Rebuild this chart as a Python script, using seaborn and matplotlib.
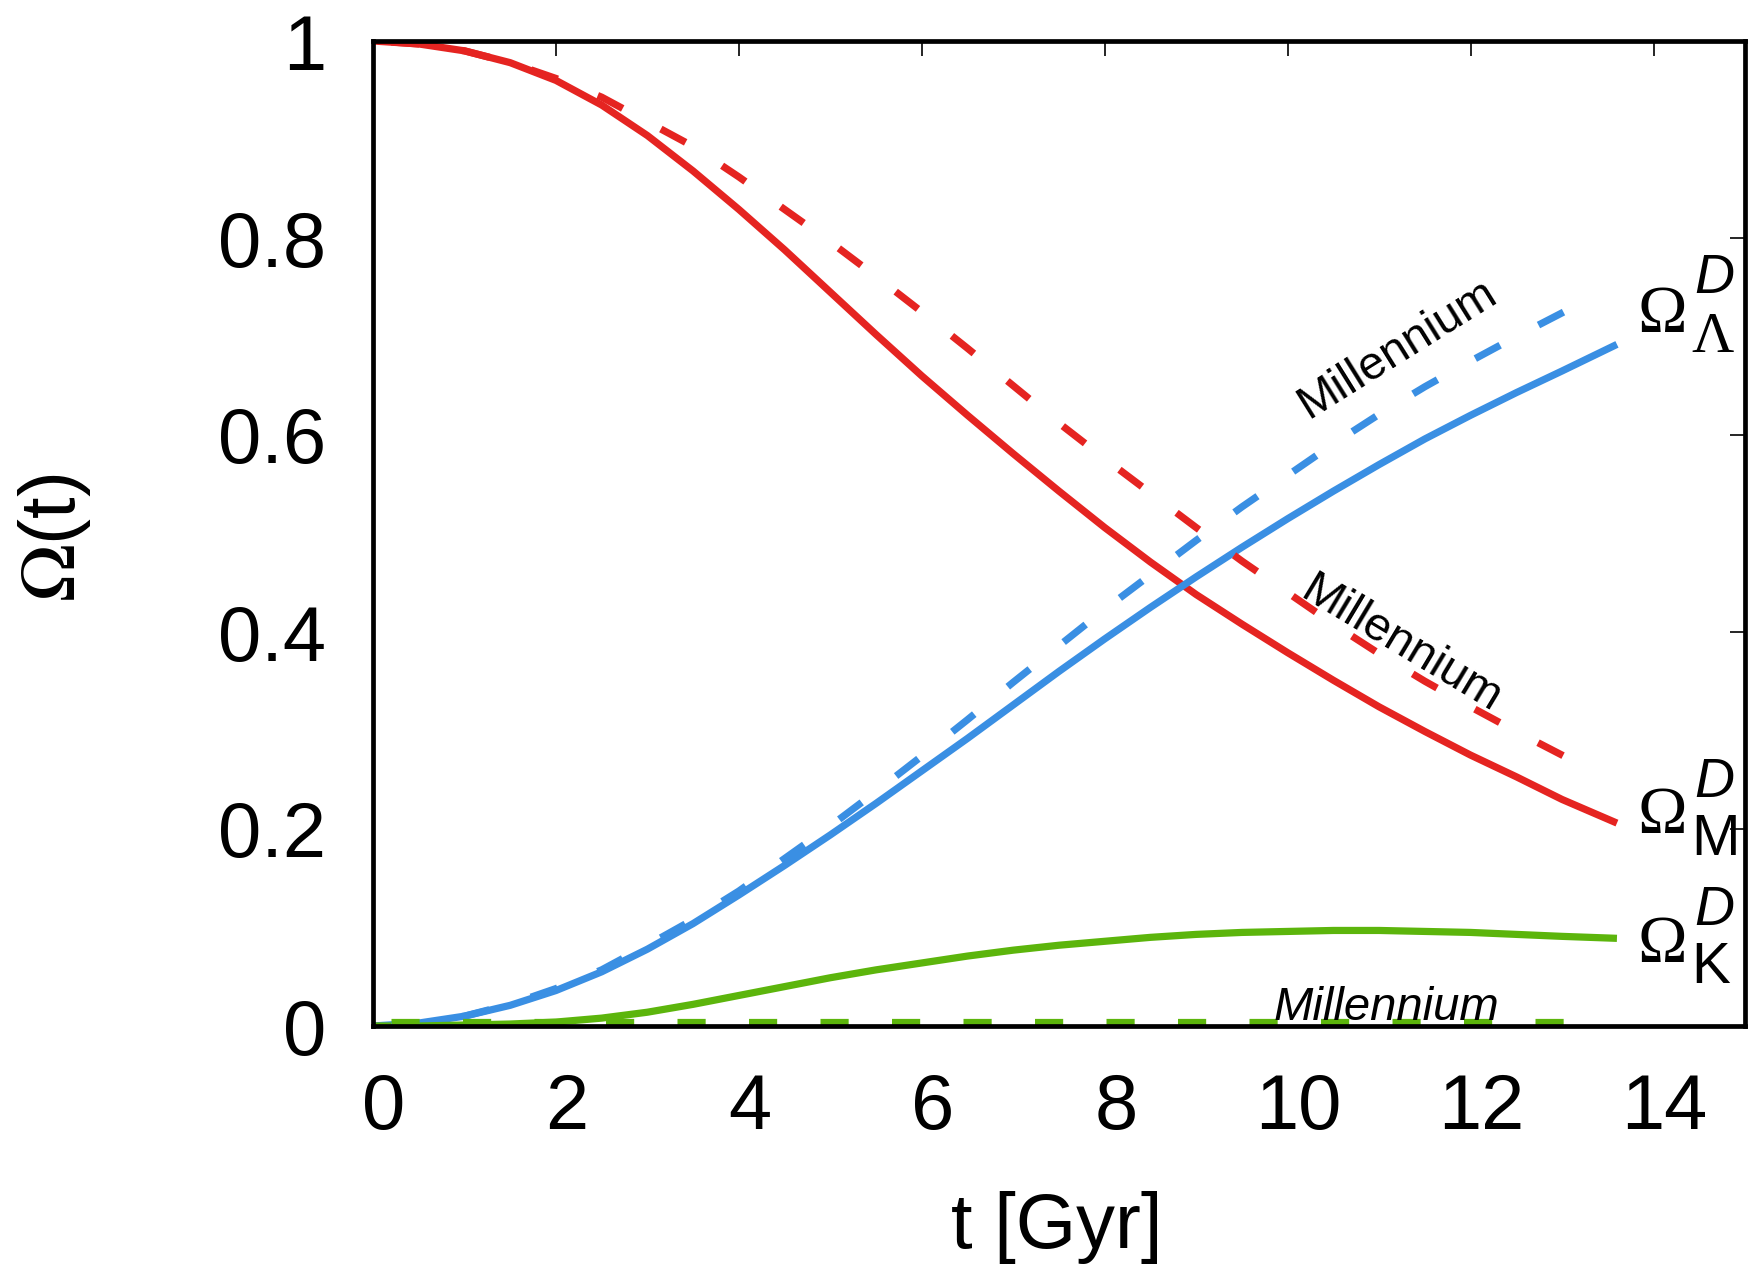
import matplotlib
matplotlib.use("Agg")
import matplotlib.pyplot as plt
import matplotlib.transforms as mtransforms
import pandas as pd
import seaborn as sns

# --- data -------------------------------------------------------------------
# dark-energy model (solid curves)
t_model = [0.0, 0.5, 1.0, 1.5, 2.0, 2.5, 3.0, 3.5, 4.0, 4.5, 5.0, 5.5, 6.0, 6.5,
           7.0, 7.5, 8.0, 8.5, 9.0, 9.5, 10.0, 10.5, 11.0, 11.5, 12.0, 12.5, 13.0, 13.6]
omega_m_model = [1.000, 0.997, 0.990, 0.978, 0.960, 0.935, 0.904, 0.868, 0.829, 0.788,
                 0.745, 0.702, 0.660, 0.620, 0.581, 0.543, 0.506, 0.471, 0.438, 0.408,
                 0.379, 0.351, 0.324, 0.299, 0.275, 0.253, 0.230, 0.206]
omega_l_model = [0.000, 0.003, 0.010, 0.021, 0.036, 0.055, 0.078, 0.104, 0.133, 0.163,
                 0.194, 0.226, 0.259, 0.292, 0.326, 0.360, 0.393, 0.425, 0.456, 0.486,
                 0.515, 0.543, 0.570, 0.596, 0.620, 0.643, 0.665, 0.692]
omega_k_model = [0.000, 0.000, 0.001, 0.002, 0.004, 0.008, 0.014, 0.022, 0.031, 0.040,
                 0.049, 0.057, 0.064, 0.071, 0.077, 0.082, 0.086, 0.090, 0.093, 0.095,
                 0.096, 0.097, 0.097, 0.096, 0.095, 0.093, 0.091, 0.089]

# Millennium cosmology (dashed curves)
t_mill = [0.2, 0.5, 1.0, 1.5, 2.0, 2.5, 3.0, 3.5, 4.0, 4.5, 5.0, 5.5, 6.0, 6.5,
          7.0, 7.5, 8.0, 8.5, 9.0, 9.5, 10.0, 10.5, 11.0, 11.5, 12.0, 12.5, 13.0, 13.25]
omega_m_mill = [0.999, 0.997, 0.990, 0.978, 0.962, 0.943, 0.918, 0.893, 0.862, 0.829,
                0.796, 0.761, 0.725, 0.688, 0.650, 0.612, 0.576, 0.541, 0.506, 0.472,
                0.440, 0.408, 0.378, 0.350, 0.324, 0.299, 0.275, 0.263]
omega_l_mill = [0.000, 0.003, 0.010, 0.022, 0.038, 0.057, 0.082, 0.108, 0.137, 0.170,
                0.203, 0.238, 0.274, 0.311, 0.349, 0.386, 0.423, 0.458, 0.493, 0.527,
                0.559, 0.591, 0.621, 0.649, 0.675, 0.700, 0.724, 0.736]
t_mill_k = [0.2, 13.25]
omega_k_mill = [0.004, 0.004]

x_ticks = [0, 2, 4, 6, 8, 10, 12, 14]
y_ticks = [0.0, 0.2, 0.4, 0.6, 0.8, 1.0]
y_tick_labels = ["0", "0.2", "0.4", "0.6", "0.8", "1"]

RED = "#e52421"
BLUE = "#3a8fe3"
GREEN = "#5cb50c"

# --- style ------------------------------------------------------------------
sns.set_theme(style="white")
plt.rcParams["font.family"] = ["Liberation Sans", "DejaVu Sans"]
plt.rcParams["mathtext.fontset"] = "stix"

fig, ax = plt.subplots(figsize=(17.54, 12.72), dpi=100)
fig.subplots_adjust(left=373 / 1754, right=1745 / 1754,
                    bottom=(1272 - 1026) / 1272, top=(1272 - 41) / 1272)

model = pd.DataFrame({"t": t_model, "M": omega_m_model,
                      "L": omega_l_model, "K": omega_k_model})
mill = pd.DataFrame({"t": t_mill, "M": omega_m_mill, "L": omega_l_mill})
mill_k = pd.DataFrame({"t": t_mill_k, "K": omega_k_mill})

LW = 5.2
DASH = (3.9, 6.0)

for col, color in [("M", RED), ("L", BLUE), ("K", GREEN)]:
    sns.lineplot(data=model, x="t", y=col, color=color, linewidth=LW,
                 solid_capstyle="butt", solid_joinstyle="round", ax=ax, legend=False)

for frame, col, color in [(mill, "M", RED), (mill, "L", BLUE), (mill_k, "K", GREEN)]:
    sns.lineplot(data=frame, x="t", y=col, color=color, linewidth=LW, ax=ax,
                 legend=False)
    ax.lines[-1].set_dashes(DASH)
    ax.lines[-1].set_dash_capstyle("butt")

# --- axes -------------------------------------------------------------------
ax.set_xlim(0, 15)
ax.set_ylim(0, 1)
ax.set_xticks(x_ticks)
ax.set_yticks(y_ticks)
ax.set_yticklabels(y_tick_labels)
ax.tick_params(direction="in", length=11, width=1.2, color="black",
               top=True, right=True, labelsize=56, labelcolor="black")
ax.tick_params(axis="x", pad=33)
ax.tick_params(axis="y", pad=34)
for spine in ax.spines.values():
    spine.set_color("black")
    spine.set_linewidth(3.4)

# x tick labels sit slightly right of their ticks
shift = mtransforms.ScaledTranslation(8 / 72, 0, fig.dpi_scale_trans)
for lbl in ax.get_xticklabels():
    lbl.set_transform(lbl.get_transform() + shift)

ax.set_xlabel("t [Gyr]", fontsize=56, color="black")
ax.set_ylabel(r"$\Omega$(t)", fontsize=56, color="black")
ax.xaxis.set_label_coords(0.4985, -0.168)
ax.yaxis.set_label_coords(-0.204, 0.496)

# --- annotations ------------------------------------------------------------
ax.text(11.20, 0.687, "Millennium", fontsize=34, rotation=32,
        rotation_mode="anchor", ha="center", va="center", color="black")
ax.text(11.24, 0.387, "Millennium", fontsize=34, rotation=-31,
        rotation_mode="anchor", ha="center", va="center", color="black")
ax.text(11.08, 0.006, "Millennium", fontsize=34, style="italic",
        ha="center", va="baseline", color="black")


def curve_label(y_omega, sub, sub_family, y_sub, y_sup):
    ax.text(13.83, y_omega, "\u03A9", fontsize=48, family="Liberation Serif",
            ha="left", va="baseline", color="black", clip_on=False)
    ax.text(14.41, y_sub, sub, fontsize=42, family=sub_family,
            ha="left", va="baseline", color="black", clip_on=False)
    ax.text(14.45, y_sup, "D", fontsize=40, style="italic",
            ha="left", va="baseline", color="black", clip_on=False)


curve_label(0.705, "\u039B", "Liberation Serif", 0.684, 0.744)
curve_label(0.196, "M", "Liberation Sans", 0.174, 0.2325)
curve_label(0.065, "K", "Liberation Sans", 0.0437, 0.1025)

fig.savefig("out.png", dpi=100)
